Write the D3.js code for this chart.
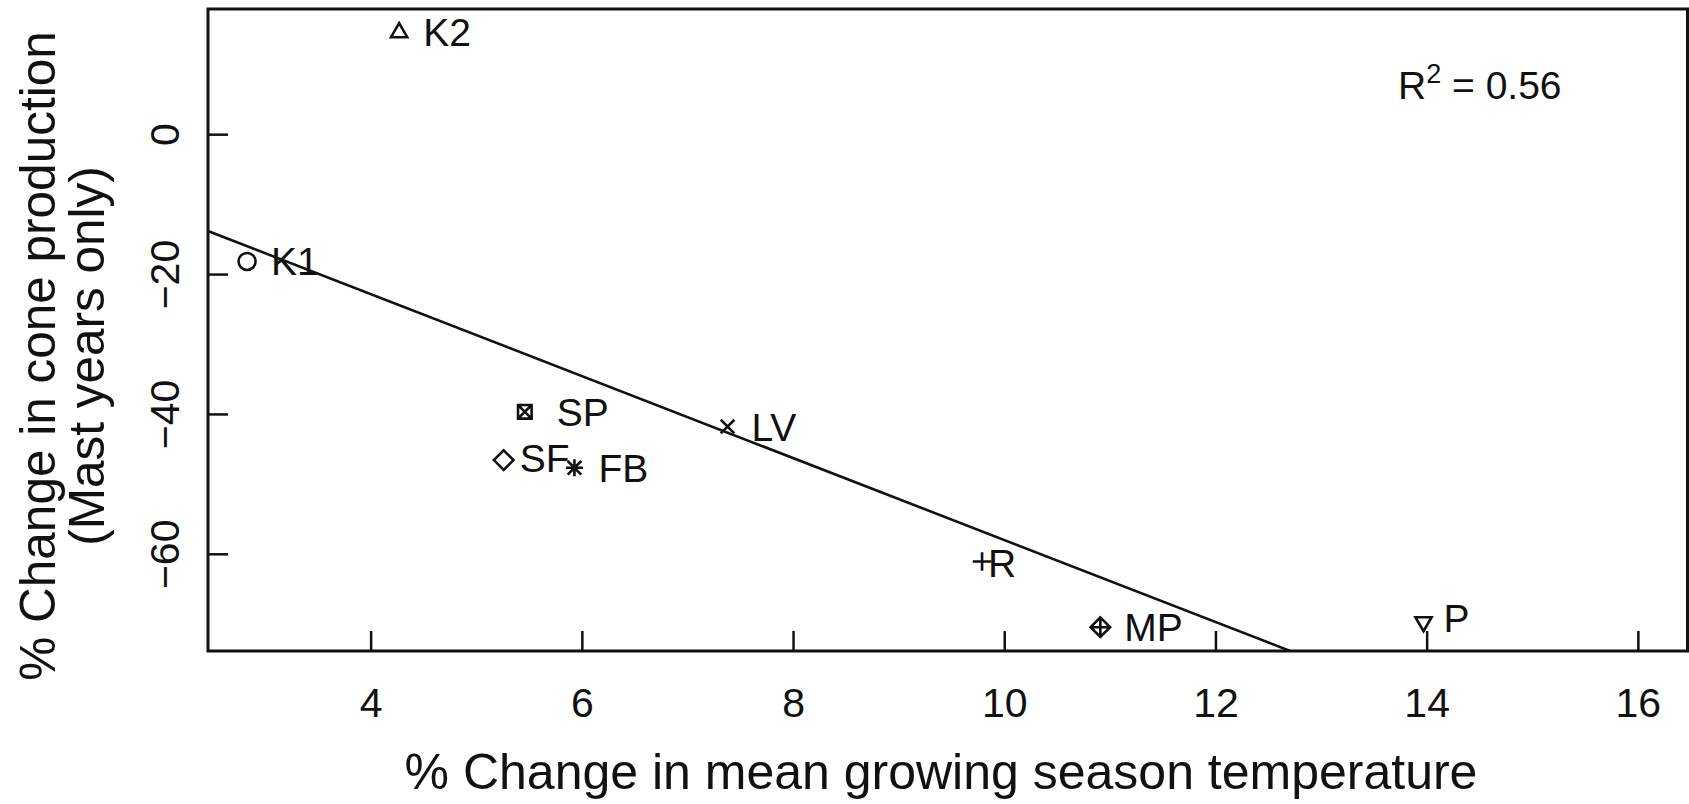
<!DOCTYPE html>
<html>
<head>
<meta charset="utf-8">
<script src="https://cdn.jsdelivr.net/npm/d3@7"></script>
<style>
  body { margin: 0; background: #fff; }
  text { font-family: "Liberation Sans", Arial, Helvetica, sans-serif; fill: #111; }
</style>
</head>
<body>
<svg id="chart" width="1689" height="804"></svg>
<script>
// sites
const sites = ["K1", "K2", "R", "LV", "SF", "P", "SP", "FB", "MP"];
const tempChange = [2.83, 4.27, 9.79, 7.38, 5.26, 13.97, 5.46, 5.93, 10.91];
const coneChange = [-18.2, 14.6, -61.1, -41.8, -46.6, -69.8, -39.7, -47.7, -70.5];
// R pch code used for each site (1..9)
const pchCodes = [1, 2, 3, 4, 5, 6, 7, 8, 9];

const xTicks = [4, 6, 8, 10, 12, 14, 16];
const yTicks = [0, -20, -40, -60];

// fitted line y = a + b*x
const fitIntercept = 0.57;
const fitSlope = -5.86;
const rSquared = "0.56";

const margin = { top: 9, right: 1.5, bottom: 153, left: 208 };
const width = 1689 - margin.left - margin.right;
const height = 804 - margin.top - margin.bottom;

const svg = d3.select("#chart");
const g = svg.append("g").attr("transform", `translate(${margin.left},${margin.top})`);

const x = d3.scaleLinear().domain([2.46, 16.47]).range([0, width]);
const y = d3.scaleLinear().domain([-73.9, 17.9]).range([height, 0]);

// clip for the regression line
svg.append("defs").append("clipPath").attr("id", "plotClip")
    .append("rect").attr("width", width).attr("height", height);

// x axis, ticks pointing inward
const xAxis = g.append("g")
    .attr("transform", `translate(0,${height})`)
    .call(d3.axisBottom(x).tickValues(xTicks).tickSize(-20).tickPadding(37));
xAxis.select(".domain").remove();
xAxis.selectAll(".tick line").attr("stroke", "#111").attr("stroke-width", 2.5);
xAxis.selectAll(".tick text").style("font-size", "41px").attr("fill", "#111");

// y axis, labels rotated like base R
const yAxis = g.append("g")
    .call(d3.axisLeft(y).tickValues(yTicks).tickSize(-20).tickFormat(d => d3.format("d")(d).replace("-", "\u2212")));
yAxis.select(".domain").remove();
yAxis.selectAll(".tick line").attr("stroke", "#111").attr("stroke-width", 2.5);
yAxis.selectAll(".tick text")
    .style("font-size", "41px")
    .attr("fill", "#111")
    .attr("text-anchor", "middle")
    .attr("dy", null)
    .attr("x", 0)
    .attr("y", -29)
    .attr("transform", "rotate(-90)");

// plot frame
g.append("rect")
    .attr("width", width).attr("height", height)
    .attr("fill", "none").attr("stroke", "#111").attr("stroke-width", 3);

// regression line
const xd = x.domain();
g.append("line")
    .attr("clip-path", "url(#plotClip)")
    .attr("x1", x(xd[0])).attr("y1", y(fitIntercept + fitSlope * xd[0]))
    .attr("x2", x(xd[1])).attr("y2", y(fitIntercept + fitSlope * xd[1]))
    .attr("stroke", "#111").attr("stroke-width", 2.6);

// base R plotting symbols
function pchPath(code, s) {
    const c = s * 0.8;
    switch (code) {
        case 1: return `M${s},0A${s},${s} 0 1,1 ${-s},0A${s},${s} 0 1,1 ${s},0Z`;
        case 2: return `M0,${-s * 1.05}L${s * 0.95},${s * 0.6}L${-s * 0.95},${s * 0.6}Z`;
        case 3: return `M${-s * 1.1},0H${s * 1.1}M0,${-s * 1.1}V${s * 1.1}`;
        case 4: return `M${-c},${-c}L${c},${c}M${-c},${c}L${c},${-c}`;
        case 5: return `M0,${-s * 1.15}L${s * 1.15},0L0,${s * 1.15}L${-s * 1.15},0Z`;
        case 6: return `M0,${s * 1.05}L${s * 0.95},${-s * 0.6}L${-s * 0.95},${-s * 0.6}Z`;
        case 7: return `M${-c},${-c}H${c}V${c}H${-c}Z M${-c},${-c}L${c},${c}M${-c},${c}L${c},${-c}`;
        case 8: return `M${-s},0H${s}M0,${-s}V${s}M${-c},${-c}L${c},${c}M${-c},${c}L${c},${-c}`;
        case 9: return `M0,${-s * 1.15}L${s * 1.15},0L0,${s * 1.15}L${-s * 1.15},0Z M${-s * 1.15},0H${s * 1.15}M0,${-s * 1.15}V${s * 1.15}`;
    }
}

const pts = sites.map((d, i) => ({ site: d, t: tempChange[i], c: coneChange[i], pch: pchCodes[i] }));

g.selectAll("path.pt").data(pts).enter()
    .append("path")
    .attr("class", "pt")
    .attr("transform", d => `translate(${x(d.t)},${y(d.c)})`)
    .attr("d", d => pchPath(d.pch, 8.5))
    .attr("fill", "none")
    .attr("stroke", "#111")
    .attr("stroke-width", 2.6);

// labels sit to the right of each point; a few are nudged as in the figure
const nudge = { SF: [-8, -2], R: [-18, 2], P: [-4, -4], SP: [8, 0] };
g.selectAll("text.lab").data(pts).enter()
    .append("text")
    .attr("class", "lab")
    .attr("x", d => x(d.t) + 24 + (nudge[d.site] ? nudge[d.site][0] : 0))
    .attr("y", d => y(d.c) + 14 + (nudge[d.site] ? nudge[d.site][1] : 0))
    .style("font-size", "39px")
    .text(d => d.site);

// R squared note
const r2 = g.append("text")
    .attr("x", 1190).attr("y", 90)
    .style("font-size", "39px");
r2.append("tspan").text("R");
r2.append("tspan").attr("dy", -16).style("font-size", "27px").text("2");
r2.append("tspan").attr("dy", 16).text(" = " + rSquared);

// axis titles
svg.append("text")
    .attr("x", 941).attr("y", 789)
    .attr("text-anchor", "middle")
    .style("font-size", "50px")
    .text("% Change in mean growing season temperature");

const yl = svg.append("text")
    .attr("transform", `translate(0,356) rotate(-90)`)
    .attr("text-anchor", "middle")
    .style("font-size", "49.5px");
yl.append("tspan").attr("x", 0).attr("y", 55).text("% Change in cone production");
yl.append("tspan").attr("x", 0).attr("y", 104).text("(Mast years only)");
</script>
</body>
</html>
